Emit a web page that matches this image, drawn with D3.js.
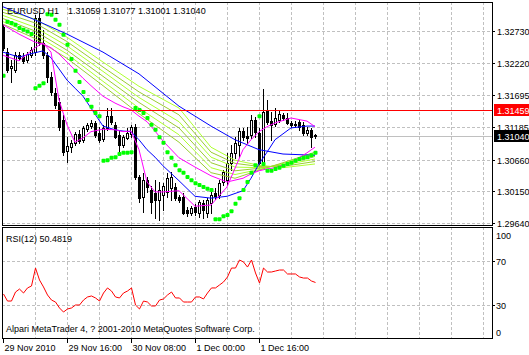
<!DOCTYPE html>
<html><head><meta charset="utf-8">
<script src="https://cdn.jsdelivr.net/npm/d3@7/dist/d3.min.js"></script>
<style>
html,body{margin:0;padding:0;background:#fff;}
svg{display:block;font-family:"Liberation Sans",Arial,sans-serif;font-size:9px;}
</style></head><body>
<svg id="c" width="529" height="355"></svg>
<script>
// ---------- DATA ----------
const symbolLabel = "EURUSD H1";
const quoteLabel = ["1.31059", "1.31077", "1.31001", "1.31040"];
const opens = [1.3280,1.3239,1.3214,1.3210,1.3234,1.3231,1.3226,1.3234,1.3239,1.3294,
 1.3254,1.3234,1.3199,1.3173,1.3159,1.3130,1.3080,1.3086,1.3093,1.3107,
 1.3098,1.3115,1.3120,1.3125,1.3109,1.3099,1.3117,1.3136,1.3122,1.3106,
 1.3090,1.3101,1.3107,1.3119,1.3038,1.3006,1.3033,1.3017,1.3012,1.3001,
 1.3009,1.3014,1.3020,1.3022,1.3006,1.3006,1.2985,1.2980,1.2990,1.2980,
 1.2996,1.2980,1.2996,1.3012,1.3009,1.3030,1.3033,1.3061,1.3077,1.3090,
 1.3112,1.3104,1.3106,1.3130,1.3109,1.3062,1.3144,1.3128,1.3123,1.3130,
 1.3138,1.3133,1.3125,1.3122,1.3127,1.3122,1.3109,1.3114,1.31059];
const highs = [1.3284,1.3246,1.3226,1.3239,1.3239,1.3238,1.3239,1.3247,1.3299,1.3302,
 1.3275,1.3239,1.3207,1.3181,1.3165,1.3138,1.3102,1.3098,1.3111,1.3114,
 1.3120,1.3125,1.3130,1.3128,1.3119,1.3122,1.3149,1.3149,1.3127,1.3114,
 1.3106,1.3117,1.3122,1.3123,1.3041,1.3045,1.3038,1.3024,1.3033,1.3030,
 1.3028,1.3045,1.3046,1.3028,1.3009,1.3012,1.2990,1.2991,1.2995,1.3001,
 1.3001,1.3004,1.3017,1.3020,1.3033,1.3049,1.3077,1.3090,1.3102,1.3117,
 1.3117,1.3119,1.3138,1.3135,1.3117,1.3180,1.3162,1.3143,1.3149,1.3146,
 1.3141,1.3141,1.3128,1.3128,1.3130,1.3127,1.3119,1.3117,1.31077];
const lows = [1.3243,1.3207,1.3191,1.3207,1.3226,1.3222,1.3223,1.3231,1.3234,1.3251,
 1.3230,1.3191,1.3170,1.3149,1.3114,1.3073,1.3062,1.3078,1.3090,1.3093,
 1.3094,1.3112,1.3117,1.3102,1.3094,1.3096,1.3114,1.3123,1.3101,1.3078,
 1.3086,1.3099,1.3102,1.3035,1.2998,1.2982,1.3014,1.2980,1.2972,1.2969,
 1.2985,1.3006,1.3001,1.3001,1.2998,1.2978,1.2975,1.2977,1.2977,1.2974,
 1.2972,1.2974,1.2980,1.3003,1.3004,1.3025,1.3025,1.3049,1.3069,1.3070,
 1.3098,1.3093,1.3101,1.3102,1.3054,1.3057,1.3123,1.3098,1.3120,1.3127,
 1.3130,1.3123,1.3119,1.3119,1.3114,1.3106,1.3106,1.3086,1.31001];
const closes = [1.3246,1.3210,1.3217,1.3234,1.3230,1.3225,1.3236,1.3243,1.3294,1.3254,
 1.3234,1.3199,1.3175,1.3154,1.3119,1.3078,1.3088,1.3093,1.3107,1.3096,
 1.3117,1.3122,1.3125,1.3106,1.3098,1.3117,1.3136,1.3127,1.3102,1.3090,
 1.3102,1.3109,1.3119,1.3038,1.3004,1.3033,1.3022,1.2998,1.3001,1.3017,
 1.3024,1.3036,1.3038,1.3004,1.3001,1.2980,1.2980,1.2988,1.2982,1.2998,
 1.2985,1.3001,1.3009,1.3007,1.3028,1.3046,1.3061,1.3077,1.3093,1.3112,
 1.3102,1.3101,1.3130,1.3111,1.3061,1.3143,1.3127,1.3122,1.3133,1.3140,
 1.3133,1.3125,1.3122,1.3123,1.3119,1.3109,1.3114,1.3102,1.31040];

// moving averages sampled at bar indices
const maIdx = [0,4,8,10,12,14,16,18,20,22,25,28,30,32,34,36,38,40,44,48,52,56,60,62,64,66,68,72,76,78];
const blueFast = [1.3239,1.3231,1.3238,1.3241,1.3230,1.3212,1.3194,1.3181,1.3168,1.3149,1.3120,1.3114,1.3112,1.3111,1.3098,1.3082,1.3070,1.3056,1.3032,1.3007,1.3004,1.3007,1.3016,1.3036,1.3059,1.3078,1.3098,1.3117,1.3120,1.3120];
const magentaFast = [1.3234,1.3225,1.3246,1.3254,1.3239,1.3162,1.3122,1.3094,1.3101,1.3111,1.3115,1.3114,1.3111,1.3112,1.3082,1.3030,1.3014,1.3014,1.3016,1.2991,1.2993,1.3022,1.3082,1.3098,1.3111,1.3119,1.3125,1.3133,1.3128,1.3119];
const magentaSlow = [1.3283,1.3268,1.3255,1.3252,1.3246,1.3236,1.3223,1.3210,1.3197,1.3185,1.3168,1.3157,1.3151,1.3146,1.3136,1.3127,1.3112,1.3096,1.3069,1.3054,1.3040,1.3030,1.3036,1.3043,1.3048,1.3051,1.3053,1.3061,1.3077,1.3086];

const slowIdx = [0,8,16,25,34,44,52,58,64,70,78];
const blueSlow = [1.3312,1.3291,1.3268,1.3239,1.3204,1.3152,1.3120,1.3098,1.3082,1.3075,1.3073];
const green1 = [1.3308,1.3292,1.3263,1.3223,1.3184,1.3149,1.3086,1.3065,1.3057,1.3053,1.3059];
const green2 = [1.3303,1.3286,1.3256,1.3215,1.3175,1.3138,1.3078,1.3060,1.3055,1.3055,1.3063];
const green3 = [1.3298,1.3279,1.3249,1.3208,1.3166,1.3127,1.3070,1.3054,1.3053,1.3057,1.3067];
const green4 = [1.3293,1.3273,1.3242,1.3200,1.3158,1.3117,1.3061,1.3048,1.3052,1.3058,1.3071];
const green5 = [1.3288,1.3267,1.3236,1.3192,1.3149,1.3106,1.3053,1.3042,1.3050,1.3060,1.3074];
const green6 = [1.3284,1.3261,1.3229,1.3185,1.3140,1.3094,1.3045,1.3036,1.3049,1.3061,1.3078];

const sar = [1.3201,1.3288,1.3286,1.3283,1.3278,1.3275,1.3272,1.3268,1.3181,1.3185,
 1.3189,1.3300,1.3299,1.3291,1.3283,1.3267,1.3251,1.3228,1.3209,1.3191,
 1.3175,1.3162,1.3151,1.3141,1.3136,1.3064,1.3065,1.3069,1.3070,1.3075,
 1.3077,1.3077,1.3078,1.3149,1.3146,1.3141,1.3133,1.3122,1.3114,1.3102,
 1.3093,1.3078,1.3069,1.3057,1.3049,1.3045,1.3038,1.3033,1.3028,1.3025,
 1.3022,1.3019,1.3017,1.2970,1.2970,1.2975,1.2977,1.2983,1.2995,1.3004,
 1.3017,1.3030,1.3045,1.3057,1.3136,1.3059,1.3048,1.3048,1.3051,1.3053,
 1.3056,1.3059,1.3061,1.3064,1.3067,1.3069,1.3070,1.3073,1.3077];

const rsi = [40.0,33.6,33.6,41.8,44.5,40.9,45.5,47.3,63.6,52.7,
 46.4,39.1,34.5,32.7,27.3,23.6,26.4,27.3,30.0,30.0,
 34.5,37.3,38.2,36.4,33.6,40.9,45.5,42.7,37.3,36.4,
 40.9,42.7,45.5,30.0,26.4,33.6,32.7,29.1,29.1,34.5,
 35.5,39.1,41.8,36.4,36.4,32.7,32.7,32.7,37.3,37.3,
 35.5,40.9,45.5,45.5,48.2,50.9,55.5,63.6,63.6,70.9,
 69.1,64.5,70.9,59.1,50.0,63.6,60.0,60.0,60.9,61.8,
 61.8,58.2,58.2,58.2,55.5,54.5,54.5,51.8,50.4819];
const rsiLabel = "RSI(12) 50.4819";

const priceTicks = [1.32730,1.32220,1.31695,1.31185,1.30660,1.30150,1.29640];
const priceTickLabels = ["1.32730","1.32220","1.31695","1.31185","1.30660","1.30150","1.29640"];
const hLineLevel = 1.31459, hLineLabel = "1.31459";
const bidLevel = 1.31040, bidLabel = "1.31040";
const rsiTicks = [100,70,30,0];
const rsiGrid = [70,30];
const timeTickIdx = [0,16,32,48,64];
const timeLabels = ["29 Nov 2010","29 Nov 16:00","30 Nov 08:00","1 Dec 00:00","1 Dec 16:00"];
const copyright = "Alpari MetaTrader 4, ? 2001-2010 MetaQuotes Software Corp.";

// ---------- LAYOUT ----------
const L = 2, R = 492, mT = 2, mB = 225, rT = 227, rB = 338;
const svg = d3.select('#c');
const x = d3.scaleLinear().domain([0, 78]).range([3, 315]);
const y = d3.scaleLinear().domain([1.29640, 1.32730]).range([223, 31]);
const yr = d3.scaleLinear().domain([0, 100]).range([338, 228]);
const gridX = d3.range(8, 121, 8);

const defs = svg.append('defs');
defs.append('clipPath').attr('id','cm').append('rect').attr('x',L+0.5).attr('y',mT+0.5).attr('width',R-L-0.5).attr('height',mB-mT-0.5);
defs.append('clipPath').attr('id','cr').append('rect').attr('x',L+0.5).attr('y',rT+0.5).attr('width',R-L-0.5).attr('height',rB-rT-0.5);

const gridC = '#c0c0c0';
const g = svg.append('g').attr('shape-rendering','crispEdges');
// vertical grid
gridX.forEach(i => {
  const px = Math.round(x(i)) + 0.5;
  g.append('line').attr('x1',px).attr('x2',px).attr('y1',mT).attr('y2',mB).attr('stroke',gridC).attr('stroke-dasharray','3,2');
  g.append('line').attr('x1',px).attr('x2',px).attr('y1',rT).attr('y2',rB).attr('stroke',gridC).attr('stroke-dasharray','3,2');
});
priceTicks.forEach(v => {
  const py = Math.round(y(v)) + 0.5;
  g.append('line').attr('x1',L).attr('x2',R).attr('y1',py).attr('y2',py).attr('stroke',gridC).attr('stroke-dasharray','3,2');
});
rsiGrid.forEach(v => {
  const py = Math.round(yr(v)) + 0.5;
  g.append('line').attr('x1',L).attr('x2',R).attr('y1',py).attr('y2',py).attr('stroke',gridC).attr('stroke-dasharray','3,2');
});

// bid line
const main = svg.append('g').attr('clip-path','url(#cm)');
main.append('line').attr('x1',L).attr('x2',R).attr('y1',Math.round(y(bidLevel))+0.5).attr('y2',Math.round(y(bidLevel))+0.5)
  .attr('stroke','#c0c0c0').attr('shape-rendering','crispEdges');

// candles
const cg = main.append('g').attr('shape-rendering','crispEdges');
opens.forEach((o, i) => {
  const c = closes[i], h = highs[i], l = lows[i];
  const cx = Math.round(x(i));
  cg.append('line').attr('x1',cx+0.5).attr('x2',cx+0.5).attr('y1',Math.round(y(h))).attr('y2',Math.round(y(l))+1).attr('stroke','#000');
  const top = Math.round(y(Math.max(o,c))), bot = Math.round(y(Math.min(o,c)));
  if (bot - top < 1) {
    cg.append('line').attr('x1',cx-1).attr('x2',cx+2).attr('y1',top+0.5).attr('y2',top+0.5).attr('stroke','#000');
  } else {
    cg.append('rect').attr('x',cx-0.5).attr('y',top+0.5).attr('width',2).attr('height',bot-top)
      .attr('fill', c >= o ? '#fff' : '#000').attr('stroke','#000');
  }
});

// moving averages
const line = d3.line().x(d => x(d[0])).y(d => y(d[1]));
const greens = [green1, green2, green3, green4, green5, green6];
const greenCols = ['#ADFF2F','#9ACD32','#ADFF2F','#9ACD32','#ADFF2F','#9ACD32'];
greens.forEach((arr, k) => {
  main.append('path').attr('d', line(slowIdx.map((i, j) => [i, arr[j]]))).attr('fill','none').attr('stroke',greenCols[k]).attr('stroke-width',1);
});
main.append('path').attr('d', line(slowIdx.map((i, j) => [i, blueSlow[j]]))).attr('fill','none').attr('stroke','#0000ff');
main.append('path').attr('d', line(maIdx.map((i, j) => [i, blueFast[j]]))).attr('fill','none').attr('stroke','#0000ff');
main.append('path').attr('d', line(maIdx.map((i, j) => [i, magentaSlow[j]]))).attr('fill','none').attr('stroke','#ff00ff');
main.append('path').attr('d', line(maIdx.map((i, j) => [i, magentaFast[j]]))).attr('fill','none').attr('stroke','#ff00ff');

// parabolic SAR
sar.forEach((v, i) => {
  main.append('rect').attr('x', Math.round(x(i)) - 1.5).attr('y', y(v) - 2).attr('width',4).attr('height',4).attr('rx',1).attr('fill','#00ff00');
});

// horizontal line object
main.append('line').attr('x1',L).attr('x2',R).attr('y1',Math.round(y(hLineLevel))+0.5).attr('y2',Math.round(y(hLineLevel))+0.5)
  .attr('stroke','#ff0000').attr('shape-rendering','crispEdges');

// RSI
const rg = svg.append('g').attr('clip-path','url(#cr)');
rg.append('path').attr('d', d3.line().x((d,i) => x(i)+0.5).y(d => yr(d))(rsi)).attr('fill','none').attr('stroke','#ff0000');

// frames
const fr = svg.append('g').attr('shape-rendering','crispEdges').attr('stroke','#000').attr('fill','none');
fr.append('rect').attr('x',L+0.5).attr('y',mT+0.5).attr('width',R-L).attr('height',mB-mT);
fr.append('rect').attr('x',L+0.5).attr('y',rT+0.5).attr('width',R-L).attr('height',rB-rT);

// price axis
const ax = svg.append('g');
priceTicks.forEach((v, k) => {
  const py = Math.round(y(v)) + 0.5;
  ax.append('line').attr('x1',R).attr('x2',R+3).attr('y1',py).attr('y2',py).attr('stroke','#000').attr('shape-rendering','crispEdges');
  ax.append('text').attr('x',497).attr('y',py+3.5).text(priceTickLabels[k]);
});
function tagLabel(level, txt, col) {
  const py = Math.round(y(level));
  ax.append('rect').attr('x',494).attr('y',py-6).attr('width',40).attr('height',12).attr('fill',col);
  ax.append('text').attr('x',497).attr('y',py+3.5).attr('fill','#fff').text(txt);
}
tagLabel(hLineLevel, hLineLabel, '#ff0000');
tagLabel(bidLevel, bidLabel, '#000');

// RSI axis
rsiTicks.forEach(v => {
  let py = yr(v);
  if (v === 100) py += 7;
  if (v === 0) py -= 6;
  if (v !== 100 && v !== 0) {
    ax.append('line').attr('x1',R).attr('x2',R+3).attr('y1',Math.round(yr(v))+0.5).attr('y2',Math.round(yr(v))+0.5).attr('stroke','#000').attr('shape-rendering','crispEdges');
  }
  ax.append('text').attr('x',496).attr('y',py+3.5).text(String(v));
});

// time axis
timeTickIdx.forEach((i, k) => {
  const px = Math.round(x(i)) + 0.5;
  ax.append('line').attr('x1',px).attr('x2',px).attr('y1',rB).attr('y2',rB+5).attr('stroke','#000').attr('shape-rendering','crispEdges');
  ax.append('text').attr('x',px+1).attr('y',351).text(timeLabels[k]);
});

// texts
svg.append('text').attr('x',7).attr('y',14).text(symbolLabel);
svg.append('text').attr('x',68).attr('y',14).text(quoteLabel.join(' '));
svg.append('text').attr('x',6).attr('y',242).text(rsiLabel);
svg.append('text').attr('x',6).attr('y',332).text(copyright);
</script>
</body></html>
